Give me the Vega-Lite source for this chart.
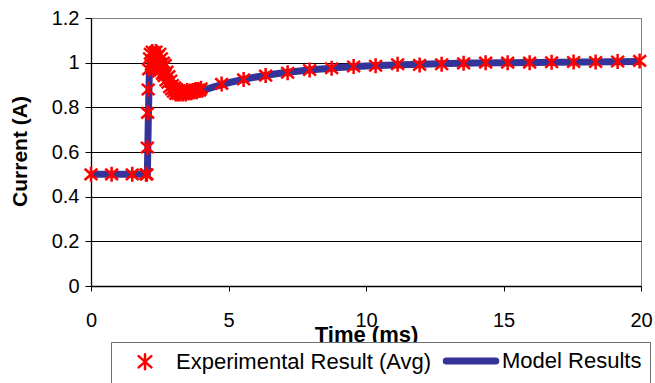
{
  "$schema": "https://vega.github.io/schema/vega-lite/v6.json",
  "width": 550,
  "height": 268,
  "autosize": "none",
  "padding": {"left": 91, "top": 18, "right": 14, "bottom": 97},
  "background": "white",
  "datasets": {
    "model": [
      {"t": 0, "current": 0.5, "series": "Model Results"},
      {"t": 2.05, "current": 0.5, "series": "Model Results"},
      {"t": 2.08, "current": 0.72, "series": "Model Results"},
      {"t": 2.12, "current": 0.95, "series": "Model Results"},
      {"t": 2.18, "current": 1.01, "series": "Model Results"},
      {"t": 2.3, "current": 1.02, "series": "Model Results"},
      {"t": 2.5, "current": 0.98, "series": "Model Results"},
      {"t": 2.7, "current": 0.925, "series": "Model Results"},
      {"t": 2.9, "current": 0.885, "series": "Model Results"},
      {"t": 3.1, "current": 0.866, "series": "Model Results"},
      {"t": 3.4, "current": 0.86, "series": "Model Results"},
      {"t": 3.7, "current": 0.864, "series": "Model Results"},
      {"t": 4.0, "current": 0.874, "series": "Model Results"},
      {"t": 4.5, "current": 0.893, "series": "Model Results"},
      {"t": 5.0, "current": 0.91, "series": "Model Results"},
      {"t": 5.5, "current": 0.924, "series": "Model Results"},
      {"t": 6.0, "current": 0.936, "series": "Model Results"},
      {"t": 6.5, "current": 0.946, "series": "Model Results"},
      {"t": 7.0, "current": 0.955, "series": "Model Results"},
      {"t": 7.5, "current": 0.962, "series": "Model Results"},
      {"t": 8.0, "current": 0.968, "series": "Model Results"},
      {"t": 8.5, "current": 0.973, "series": "Model Results"},
      {"t": 9.0, "current": 0.978, "series": "Model Results"},
      {"t": 9.5, "current": 0.982, "series": "Model Results"},
      {"t": 10.0, "current": 0.985, "series": "Model Results"},
      {"t": 11.0, "current": 0.99, "series": "Model Results"},
      {"t": 12.0, "current": 0.993, "series": "Model Results"},
      {"t": 13.0, "current": 0.996, "series": "Model Results"},
      {"t": 14.0, "current": 0.998, "series": "Model Results"},
      {"t": 15.0, "current": 1.0, "series": "Model Results"},
      {"t": 16.0, "current": 1.001, "series": "Model Results"},
      {"t": 17.0, "current": 1.002, "series": "Model Results"},
      {"t": 18.0, "current": 1.003, "series": "Model Results"},
      {"t": 19.0, "current": 1.004, "series": "Model Results"},
      {"t": 20.0, "current": 1.005, "series": "Model Results"}
    ],
    "exp": [
      {"t": 0, "current": 0.5, "series": "Experimental Result (Avg)"},
      {"t": 0.75, "current": 0.5, "series": "Experimental Result (Avg)"},
      {"t": 1.5, "current": 0.5, "series": "Experimental Result (Avg)"},
      {"t": 2.0, "current": 0.5, "series": "Experimental Result (Avg)"},
      {"t": 2.03, "current": 0.5, "series": "Experimental Result (Avg)"},
      {"t": 2.05, "current": 0.62, "series": "Experimental Result (Avg)"},
      {"t": 2.06, "current": 0.775, "series": "Experimental Result (Avg)"},
      {"t": 2.08, "current": 0.88, "series": "Experimental Result (Avg)"},
      {"t": 2.1, "current": 0.97, "series": "Experimental Result (Avg)"},
      {"t": 2.13, "current": 1.02, "series": "Experimental Result (Avg)"},
      {"t": 2.16, "current": 1.04, "series": "Experimental Result (Avg)"},
      {"t": 2.2, "current": 0.99, "series": "Experimental Result (Avg)"},
      {"t": 2.23, "current": 1.05, "series": "Experimental Result (Avg)"},
      {"t": 2.26, "current": 1.01, "series": "Experimental Result (Avg)"},
      {"t": 2.3, "current": 1.04, "series": "Experimental Result (Avg)"},
      {"t": 2.33, "current": 0.97, "series": "Experimental Result (Avg)"},
      {"t": 2.36, "current": 1.05, "series": "Experimental Result (Avg)"},
      {"t": 2.4, "current": 1.0, "series": "Experimental Result (Avg)"},
      {"t": 2.43, "current": 1.03, "series": "Experimental Result (Avg)"},
      {"t": 2.46, "current": 0.96, "series": "Experimental Result (Avg)"},
      {"t": 2.5, "current": 1.04, "series": "Experimental Result (Avg)"},
      {"t": 2.53, "current": 0.98, "series": "Experimental Result (Avg)"},
      {"t": 2.56, "current": 1.02, "series": "Experimental Result (Avg)"},
      {"t": 2.6, "current": 0.95, "series": "Experimental Result (Avg)"},
      {"t": 2.63, "current": 1.0, "series": "Experimental Result (Avg)"},
      {"t": 2.66, "current": 0.94, "series": "Experimental Result (Avg)"},
      {"t": 2.7, "current": 0.99, "series": "Experimental Result (Avg)"},
      {"t": 2.73, "current": 0.92, "series": "Experimental Result (Avg)"},
      {"t": 2.76, "current": 0.96, "series": "Experimental Result (Avg)"},
      {"t": 2.8, "current": 0.91, "series": "Experimental Result (Avg)"},
      {"t": 2.83, "current": 0.94, "series": "Experimental Result (Avg)"},
      {"t": 2.86, "current": 0.89, "series": "Experimental Result (Avg)"},
      {"t": 2.9, "current": 0.92, "series": "Experimental Result (Avg)"},
      {"t": 2.93, "current": 0.88, "series": "Experimental Result (Avg)"},
      {"t": 2.96, "current": 0.9, "series": "Experimental Result (Avg)"},
      {"t": 3.0, "current": 0.87, "series": "Experimental Result (Avg)"},
      {"t": 3.04, "current": 0.89, "series": "Experimental Result (Avg)"},
      {"t": 3.08, "current": 0.86, "series": "Experimental Result (Avg)"},
      {"t": 3.12, "current": 0.88, "series": "Experimental Result (Avg)"},
      {"t": 3.16, "current": 0.86, "series": "Experimental Result (Avg)"},
      {"t": 3.2, "current": 0.875, "series": "Experimental Result (Avg)"},
      {"t": 3.25, "current": 0.86, "series": "Experimental Result (Avg)"},
      {"t": 3.3, "current": 0.875, "series": "Experimental Result (Avg)"},
      {"t": 3.35, "current": 0.86, "series": "Experimental Result (Avg)"},
      {"t": 3.4, "current": 0.87, "series": "Experimental Result (Avg)"},
      {"t": 3.45, "current": 0.86, "series": "Experimental Result (Avg)"},
      {"t": 3.5, "current": 0.875, "series": "Experimental Result (Avg)"},
      {"t": 3.55, "current": 0.865, "series": "Experimental Result (Avg)"},
      {"t": 3.6, "current": 0.87, "series": "Experimental Result (Avg)"},
      {"t": 3.65, "current": 0.865, "series": "Experimental Result (Avg)"},
      {"t": 3.7, "current": 0.875, "series": "Experimental Result (Avg)"},
      {"t": 3.75, "current": 0.87, "series": "Experimental Result (Avg)"},
      {"t": 3.8, "current": 0.88, "series": "Experimental Result (Avg)"},
      {"t": 3.85, "current": 0.87, "series": "Experimental Result (Avg)"},
      {"t": 3.9, "current": 0.88, "series": "Experimental Result (Avg)"},
      {"t": 3.95, "current": 0.875, "series": "Experimental Result (Avg)"},
      {"t": 4.0, "current": 0.885, "series": "Experimental Result (Avg)"},
      {"t": 4.75, "current": 0.905, "series": "Experimental Result (Avg)"},
      {"t": 5.55, "current": 0.925, "series": "Experimental Result (Avg)"},
      {"t": 6.35, "current": 0.942, "series": "Experimental Result (Avg)"},
      {"t": 7.15, "current": 0.955, "series": "Experimental Result (Avg)"},
      {"t": 7.95, "current": 0.967, "series": "Experimental Result (Avg)"},
      {"t": 8.75, "current": 0.975, "series": "Experimental Result (Avg)"},
      {"t": 9.55, "current": 0.983, "series": "Experimental Result (Avg)"},
      {"t": 10.35, "current": 0.986, "series": "Experimental Result (Avg)"},
      {"t": 11.15, "current": 0.993, "series": "Experimental Result (Avg)"},
      {"t": 11.95, "current": 0.99, "series": "Experimental Result (Avg)"},
      {"t": 12.75, "current": 0.993, "series": "Experimental Result (Avg)"},
      {"t": 13.55, "current": 0.997, "series": "Experimental Result (Avg)"},
      {"t": 14.35, "current": 1.0, "series": "Experimental Result (Avg)"},
      {"t": 15.15, "current": 1.0, "series": "Experimental Result (Avg)"},
      {"t": 15.95, "current": 1.0, "series": "Experimental Result (Avg)"},
      {"t": 16.75, "current": 1.002, "series": "Experimental Result (Avg)"},
      {"t": 17.55, "current": 1.003, "series": "Experimental Result (Avg)"},
      {"t": 18.35, "current": 1.003, "series": "Experimental Result (Avg)"},
      {"t": 19.15, "current": 1.005, "series": "Experimental Result (Avg)"},
      {"t": 19.95, "current": 1.008, "series": "Experimental Result (Avg)"}
    ]
  },
  "encoding": {
    "x": {
      "field": "t", "type": "quantitative",
      "scale": {"domain": [0, 20], "nice": false, "zero": false},
      "axis": {
        "values": [0, 5, 10, 15, 20],
        "grid": false,
        "title": "Time (ms)",
        "tickSize": 5,
        "labelPadding": 19,
        "labelFontSize": 20,
        "labelFlush": false,
        "labelOverlap": false,
        "labelBaseline": "top",
        "titleFontSize": 22,
        "titleFontWeight": "bold",
        "titleBaseline": "alphabetic",
        "titleX": 275,
        "titleY": 55
      }
    },
    "y": {
      "field": "current", "type": "quantitative",
      "scale": {"domain": [0, 1.2], "nice": false},
      "axis": {
        "values": [0, 0.2, 0.4, 0.6, 0.8, 1, 1.2],
        "format": "~g",
        "grid": true,
        "gridColor": {"condition": {"test": "datum.value >= 1.19", "value": "#808080"}, "value": "#000000"},
        "title": "Current (A)",
        "tickSize": 6,
        "labelPadding": 6,
        "labelFontSize": 20,
        "labelFlush": false,
        "labelOverlap": false,
        "titleFontSize": 21,
        "titleFontWeight": "bold",
        "titleBaseline": "alphabetic",
        "titleAngle": -90,
        "titleX": -65,
        "titleY": 133
      }
    },
    "color": {
      "field": "series", "type": "nominal",
      "scale": {"domain": ["Experimental Result (Avg)", "Model Results"], "range": ["#ff0000", "#333399"]},
      "legend": {
        "title": null,
        "orient": "none",
        "legendX": 20,
        "legendY": 324,
        "direction": "horizontal",
        "padding": 8,
        "strokeColor": "#6e6e6e",
        "fillColor": "white",
        "labelFontSize": 22,
        "labelFont": "Liberation Sans",
        "labelColor": "black",
        "labelLimit": 500,
        "symbolSize": 225,
        "symbolOffset": 15,
        "labelOffset": 20,
        "columnPadding": 0,
        "symbolFillColor": "transparent",
        "encode": {"symbols": {"update": {"strokeCap": {"value": "round"}, "fill": {"value": "transparent"}}}}
      }
    },
    "strokeWidth": {
      "field": "series", "type": "nominal",
      "scale": {"type": "ordinal", "domain": ["Experimental Result (Avg)", "Model Results"], "range": [2.5, 7]},
      "legend": {
        "title": null,
        "orient": "none",
        "legendX": 20,
        "legendY": 324,
        "direction": "horizontal",
        "padding": 8,
        "strokeColor": "#6e6e6e",
        "fillColor": "white",
        "labelFontSize": 22,
        "labelFont": "Liberation Sans",
        "labelColor": "black",
        "labelLimit": 500,
        "symbolSize": 225,
        "symbolOffset": 15,
        "labelOffset": 20,
        "columnPadding": 0,
        "symbolFillColor": "transparent"
      }
    }
  },
  "layer": [
    {
      "data": {"name": "model"},
      "mark": {"type": "line", "strokeJoin": "round", "strokeCap": "butt"}
    },
    {
      "data": {"name": "exp"},
      "mark": {"type": "point", "filled": false, "size": 225, "opacity": 1},
      "encoding": {
        "shape": {
          "field": "series", "type": "nominal",
          "scale": {"domain": ["Experimental Result (Avg)", "Model Results"], "range": ["M-0.85,-0.75L0.85,0.75M-0.85,0.75L0.85,-0.75M0,-1L0,1", "M-3.3,0L3.3,0"]},
          "legend": {
            "title": null,
            "orient": "none",
            "legendX": 20,
            "legendY": 324,
            "direction": "horizontal",
            "padding": 8,
            "strokeColor": "#6e6e6e",
            "fillColor": "white",
            "labelFontSize": 22,
            "labelFont": "Liberation Sans",
            "labelColor": "black",
            "labelLimit": 500,
            "symbolSize": 225,
            "symbolOffset": 15,
            "labelOffset": 20,
            "columnPadding": 0,
            "symbolFillColor": "transparent"
          }
        }
      }
    }
  ],
  "config": {
    "font": "Liberation Sans",
    "view": {"stroke": "#808080", "strokeWidth": 1},
    "axis": {
      "domainColor": "#000000",
      "domainWidth": 1.3,
      "tickColor": "#000000",
      "tickWidth": 1,
      "labelColor": "#000000",
      "titleColor": "#000000",
      "gridWidth": 1,
      "gridOpacity": 1,
      "labelFont": "Liberation Sans",
      "titleFont": "Liberation Sans"
    }
  }
}
